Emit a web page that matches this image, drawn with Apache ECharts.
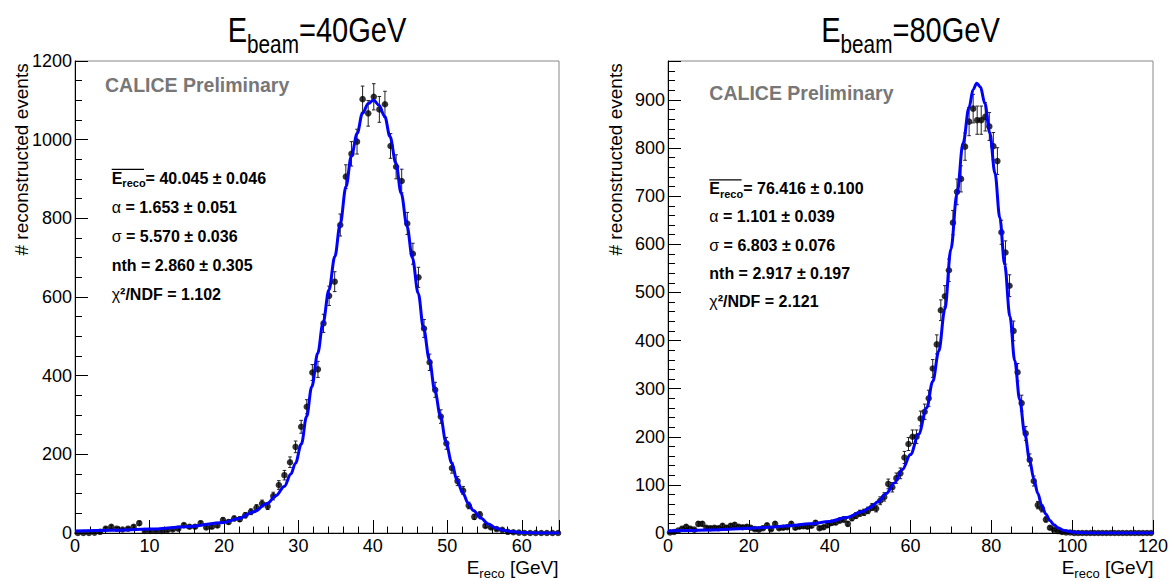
<!DOCTYPE html>
<html><head><meta charset="utf-8">
<script src="https://cdn.jsdelivr.net/npm/echarts@6/dist/echarts.min.js"></script>
<style>html,body{margin:0;padding:0;background:#fff;}#c{width:1171px;height:581px;}</style>
</head><body><div id="c"></div>
<script>
// ---------------- data: E_beam = 40 GeV ----------------
const binLow40 = 0, binWidth40 = 0.75;
const counts40 = [0,0,0,1,3,11,16,11,9,11,16,25,5,5,5,5,7,9,11,20,16,16,25,14,16,19,33,28,37,35,45,54,
  64,75,68,94,122,147,180,219,270,321,408,416,533,603,639,783,906,964,995,1103,1067,1109,1077,1090,
  984,931,895,787,710,650,520,434,364,296,228,165,132,108,70,41,47,18,14,10,8,3,2,1,0,0,0,0,0,0,0];
const fitE40 = [0,5,10,15,20,22,24,25.8,27,28.1,29,29.6,30.4,31.1,31.8,32.6,33.3,34.1,34.9,35.6,36.4,37.1,37.9,38.6,39.4,40.1,40.8,41.6,42.3,43.1,43.8,44.6,45.3,46.1,46.8,47.6,48.3,49.1,49.8,50.6,51.3,52.1,52.8,53.5,54.5,55.5,56.5,57.5,58.5,60,62,65];
const fitN40 = [5,7,10,16,27,37,54,75,95,118,150,177,226,296,372,457,533,618,703,784,881,957,1016,1067,1092,1101,1088,1059,1008,940,864,779,700,609,521,440,364,296,232,178,134,101,76,57,38,23,13,7,4,1.5,0.2,0];
const xTicks40 = [0,10,20,30,40,50,60];
const yTicks40 = [0,200,400,600,800,1000,1200];
const stats40 = ['= 40.045 \u00b1 0.046', ' = 1.653 \u00b1 0.051', ' = 5.570 \u00b1 0.036', 'nth = 2.860 \u00b1 0.305', '/NDF = 1.102'];

// ---------------- data: E_beam = 80 GeV ----------------
const binLow80 = 0, binWidth80 = 1.0;
const counts80 = [1,2,5,9,13,9,7,19,19,11,10,11,10,15,11,15,17,13,12,13,11,8,7,10,16,8,19,10,11,12,
  19,11,13,14,13,15,21,10,12,16,21,22,26,28,19,31,36,41,43,47,54,51,67,75,102,95,114,124,157,185,
  200,200,238,252,280,342,392,463,492,546,645,709,736,803,855,882,858,858,865,845,804,773,625,583,514,420,334,270,207,152,
  108,58,51,28,11,7,4,2,1,1,0,0,0,0,0,0,0,0,0,0,0,0,0,0,0,0,0,0,0,0];
const fitE80 = [0,5,10,15,20,25,30,35,40,44,48,50,52,54,56,58,60,62,64,65.5,67,68.5,70,71.5,73,74.5,75.5,76.4,77.3,78.4,79.6,80.9,82.1,83.3,84.6,85.8,87,88.3,89.5,90.5,91.5,92.5,93.5,94.5,95.5,96.5,98,100,103,108,120];
const fitN80 = [4,5,6,8,10,12,15,19,24,32,44,53,65,82,104,132,163,205,260,315,378,465,590,705,810,885,922,935,927,893,832,748,655,558,450,358,278,205,150,113,82,57,39,26,17,11,5,2,0.4,0,0];
const xTicks80 = [0,20,40,60,80,100,120];
const yTicks80 = [0,100,200,300,400,500,600,700,800,900];
const stats80 = ['= 76.416 \u00b1 0.100', ' = 1.101 \u00b1 0.039', ' = 6.803 \u00b1 0.076', 'nth = 2.917 \u00b1 0.197', '/NDF = 2.121'];

// ---------------- drawing ----------------
const FONT = '"Liberation Sans", Arial, Helvetica, sans-serif';
const centers = (lo, w, n) => Array.from({length: n}, (_, i) => lo + w * (i + 0.5));
const c40 = centers(binLow40, binWidth40, counts40.length);
const c80 = centers(binLow80, binWidth80, counts80.length);
const pts40 = c40.map((x, i) => [x, counts40[i]]);
const pts80 = c80.map((x, i) => [x, counts80[i]]);
const err40 = c40.map((x, i) => [x, counts40[i], Math.sqrt(counts40[i])]);   // Poisson errors
const err80 = c80.map((x, i) => [x, counts80[i], Math.sqrt(counts80[i])]);
const fit40 = fitE40.map((x, i) => [x, fitN40[i]]);
const fit80 = fitE80.map((x, i) => [x, fitN80[i]]);

function errRender(params, api) {
  const x = api.value(0), y = api.value(1), e = api.value(2);
  if (!(e > 0)) return null;
  const t = api.coord([x, y + e]), b = api.coord([x, y - e]);
  const cap = 1.8, st = {stroke: '#222', lineWidth: 1};
  return {type: 'group', children: [
    {type: 'line', shape: {x1: t[0], y1: t[1], x2: b[0], y2: b[1]}, style: st},
    {type: 'line', shape: {x1: t[0] - cap, y1: t[1], x2: t[0] + cap, y2: t[1]}, style: st},
    {type: 'line', shape: {x1: b[0] - cap, y1: b[1], x2: b[0] + cap, y2: b[1]}, style: st}
  ]};
}

function xAxis(idx, max, ticks, minorSplit) {
  const step = ticks[1] - ticks[0];
  return {gridIndex: idx, type: 'value', min: ticks[0], max: max, interval: step,
    axisLine: {show: true, onZero: false, lineStyle: {color: '#000', width: 1}},
    axisTick: {show: true, inside: true, length: 13, lineStyle: {color: '#000', width: 1}},
    minorTick: {show: true, splitNumber: minorSplit, length: 6.5, lineStyle: {color: '#000', width: 1}},
    splitLine: {show: false}, minorSplitLine: {show: false},
    axisLabel: {color: '#000', fontSize: 18, fontFamily: FONT, margin: 4,
      formatter: v => ticks.includes(v) ? String(v) : ''}};
}
function yAxis(idx, max, ticks, minorSplit) {
  const step = ticks[1] - ticks[0];
  return {gridIndex: idx, type: 'value', min: ticks[0], max: max, interval: step,
    axisLine: {show: true, onZero: false, lineStyle: {color: '#000', width: 1}},
    axisTick: {show: true, inside: true, length: 13, lineStyle: {color: '#000', width: 1}},
    minorTick: {show: true, splitNumber: minorSplit, length: 7, lineStyle: {color: '#000', width: 1}},
    splitLine: {show: false}, minorSplitLine: {show: false},
    axisLabel: {color: '#000', fontSize: 18, fontFamily: FONT, margin: 3,
      formatter: v => ticks.includes(v) ? String(v) : ''}};
}

function title(cx, txt) {
  return {type: 'text', x: cx, y: 12.8, scaleX: 0.83, style: {
    text: '{a|E}{b|beam}{a|' + txt + '}', align: 'center', verticalAlign: 'top', textAlign: 'center', textVerticalAlign: 'top',
    rich: {a: {fontSize: 35, fontFamily: FONT, lineHeight: 43.7, verticalAlign: 'top', fill: '#000'},
           b: {fontSize: 25, fontFamily: FONT, lineHeight: 43.7, verticalAlign: 'bottom', fill: '#000'}}}};
}
function xName(rx) {
  return {type: 'text', x: rx, y: 558, style: {
    text: '{a|E}{b|reco}{a| [GeV]}', align: 'right', verticalAlign: 'top', textAlign: 'right', textVerticalAlign: 'top',
    rich: {a: {fontSize: 19, fontFamily: FONT, lineHeight: 21.5, verticalAlign: 'top', fill: '#000'},
           b: {fontSize: 13, fontFamily: FONT, lineHeight: 21.5, verticalAlign: 'bottom', fill: '#000'}}}};
}
function yName(cx) {
  return {type: 'text', x: cx, y: 63.3, rotation: Math.PI / 2, style: {
    text: '# reconstructed events', align: 'right', verticalAlign: 'middle', textAlign: 'right', textVerticalAlign: 'middle',
    fontSize: 19, fontFamily: FONT, fill: '#000'}};
}
function calice(x, y) {
  return {type: 'text', x: x, y: y, style: {text: 'CALICE Preliminary', align: 'left', verticalAlign: 'middle',
    textAlign: 'left', textVerticalAlign: 'middle', fontSize: 19.5, fontWeight: 'bold', fontFamily: FONT, fill: '#777'}};
}
const stRich = {
  b: {fontSize: 16, fontWeight: 'bold', fontFamily: FONT, fill: '#000', lineHeight: 18.6, verticalAlign: 'top'},
  s: {fontSize: 11, fontWeight: 'bold', fontFamily: FONT, fill: '#000', lineHeight: 18.6, verticalAlign: 'bottom'},
  g: {fontSize: 16, fontFamily: FONT, fill: '#000', lineHeight: 18.6, verticalAlign: 'top'}
};
// yb: baseline of first line
function stats(x, yb, dy, s) {
  const lines = [
    '{b|E}{s|reco}{b|' + s[0] + '}',
    '{g|\u03b1}{b|' + s[1] + '}',
    '{g|\u03c3}{b|' + s[2] + '}',
    '{b|' + s[3] + '}',
    '{g|\u03c7}{b|\u00b2' + s[4] + '}'
  ];
  const els = lines.map((t, i) => ({type: 'text', x: x, y: yb + i * dy - 13.5, style: {
    text: t, align: 'left', verticalAlign: 'top', textAlign: 'left', textVerticalAlign: 'top', rich: stRich}}));
  els.push({type: 'line', shape: {x1: x, y1: yb - 14.2, x2: x + 32.3, y2: yb - 14.2}, style: {stroke: '#000', lineWidth: 1.3}});
  return els;
}

const chart = echarts.init(document.getElementById('c'), null, {renderer: 'svg'});
chart.setOption({
  animation: false,
  backgroundColor: '#fff',
  grid: [
    {left: 75, right: 612, top: 61, bottom: 48, show: true, borderColor: '#888', borderWidth: 1, backgroundColor: 'transparent', outerBoundsMode: 'none'},
    {left: 668, right: 18, top: 61, bottom: 48, show: true, borderColor: '#888', borderWidth: 1, backgroundColor: 'transparent', outerBoundsMode: 'none'}
  ],
  xAxis: [xAxis(0, 65, xTicks40, 5), xAxis(1, 120, xTicks80, 4)],
  yAxis: [yAxis(0, 1200, yTicks40, 4), yAxis(1, 981, yTicks80, 5)],
  series: [
    {type: 'custom', xAxisIndex: 0, yAxisIndex: 0, data: err40, renderItem: errRender, clip: true, z: 2, silent: true},
    {type: 'scatter', xAxisIndex: 0, yAxisIndex: 0, data: pts40, symbol: 'circle', symbolSize: 6.5, itemStyle: {color: '#000'}, clip: false, z: 3, silent: true},
    {type: 'line', xAxisIndex: 0, yAxisIndex: 0, data: fit40, showSymbol: false, smooth: 0.35, smoothMonotone: 'x', lineStyle: {color: '#0000ff', width: 3}, z: 4, silent: true},
    {type: 'custom', xAxisIndex: 1, yAxisIndex: 1, data: err80, renderItem: errRender, clip: true, z: 2, silent: true},
    {type: 'scatter', xAxisIndex: 1, yAxisIndex: 1, data: pts80, symbol: 'circle', symbolSize: 6.5, itemStyle: {color: '#000'}, clip: false, z: 3, silent: true},
    {type: 'line', xAxisIndex: 1, yAxisIndex: 1, data: fit80, showSymbol: false, smooth: 0.35, smoothMonotone: 'x', lineStyle: {color: '#0000ff', width: 3}, z: 4, silent: true}
  ],
  graphic: [
    title(317, '=40GeV'), title(910.5, '=80GeV'),
    xName(558.5), xName(1153.5),
    yName(21.7), yName(615.1),
    calice(105, 84.9), calice(709.3, 93.2)
  ].concat(stats(111.7, 183.5, 29.2, stats40), stats(709.3, 194, 28.35, stats80))
});
</script></body></html>
